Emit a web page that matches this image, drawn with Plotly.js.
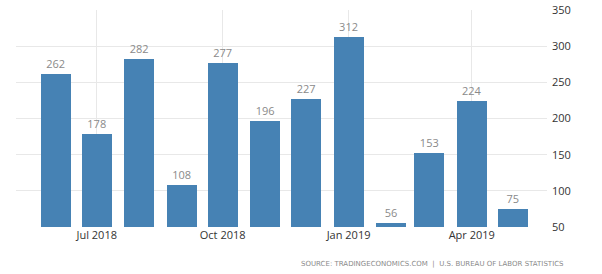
<!DOCTYPE html>
<html><head><meta charset="utf-8">
<script src="https://cdn.plot.ly/plotly-3.0.1.min.js"></script>
<style>html,body{margin:0;padding:0;background:#fff;}#chart{width:602px;height:274px;}</style>
</head><body><div id="chart"></div>
<script>
const months = ['2018-06-01','2018-07-01','2018-08-01','2018-09-01','2018-10-01','2018-11-01','2018-12-01','2019-01-01','2019-02-01','2019-03-01','2019-04-01','2019-05-01'];
const values = [262, 178, 282, 108, 277, 196, 227, 312, 56, 153, 224, 75];
const tickVals = ['2018-07-01','2018-10-01','2019-01-01','2019-04-01'];
const tickText = ['Jul 2018','Oct 2018','Jan 2019','Apr 2019'];
const yTicks = [50, 100, 150, 200, 250, 300, 350];
const sourceText = 'SOURCE: TRADINGECONOMICS.COM  |  U.S. BUREAU OF LABOR STATISTICS';

const DAY = 86400000;
Plotly.newPlot('chart', [{
  type: 'bar',
  x: months,
  y: values,
  base: 50,
  width: 22 * DAY,
  marker: {color: '#4682b4'},
  text: values.map(String),
  textposition: 'outside',
  textfont: {family: 'Open Sans, sans-serif', size: 11, color: '#8a8a8a'},
  cliponaxis: false,
  hoverinfo: 'none'
}].map(t => { t.y = values.map(v => v - 50); return t; }), {
  width: 602, height: 274,
  margin: {l: 16, r: 55, t: 10, b: 47},
  paper_bgcolor: '#fff', plot_bgcolor: '#fff',
  showlegend: false,
  bargap: 0,
  xaxis: {
    type: 'date',
    range: ['2018-05-03', '2019-05-26'],
    tickvals: tickVals,
    ticktext: tickText,
    showgrid: true, gridcolor: '#e8e8e8', gridwidth: 1,
    zeroline: false, showline: false, ticks: '',
    tickfont: {family: 'Open Sans, sans-serif', size: 11, color: '#333'}
  },
  yaxis: {
    side: 'right',
    range: [50, 350],
    tickvals: yTicks,
    showgrid: true, gridcolor: '#e8e8e8', gridwidth: 1,
    zeroline: false, showline: false, ticks: '',
    ticklabelstandoff: 4,
    tickfont: {family: 'Open Sans, sans-serif', size: 11, color: '#333'}
  },
  annotations: [{
    xref: 'paper', yref: 'paper', x: 1.035, y: -0.17, xanchor: 'right', yanchor: 'middle',
    text: sourceText, showarrow: false,
    font: {family: 'DejaVu Sans, sans-serif', size: 7, color: '#8a8a8a'}
  }]
}, {staticPlot: true});
</script></body></html>
